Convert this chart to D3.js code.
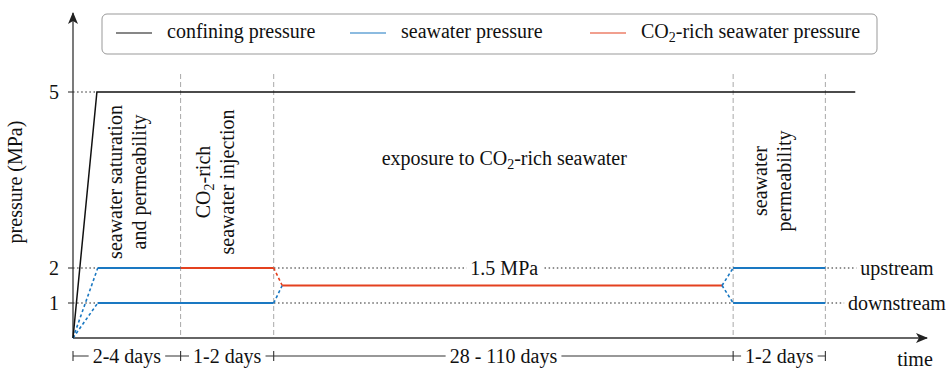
<!DOCTYPE html>
<html>
<head>
<meta charset="utf-8">
<script src="https://cdn.jsdelivr.net/npm/d3@7"></script>
<style>
  html, body { margin: 0; padding: 0; background: #fff; }
  svg text { font-family: "Liberation Serif", "Times New Roman", Times, "DejaVu Serif", serif; }
</style>
</head>
<body>
<svg id="chart" width="951" height="371"></svg>
<script>
// Schematic time axis (arbitrary units) and pressure (MPa)
const phaseBounds = [0, 12.6, 23.5, 77.3, 88.1];           // experiment phase boundaries
const phaseDurations = ["2-4 days", "1-2 days", "28 - 110 days", "1-2 days"];
const yTicks = [1, 2, 5];

const confining = [[0, 0], [2.8, 5], [91.6, 5]];
const seaUpRamp = [[0, 0], [2.9, 2]];
const seaDownRamp = [[0, 0], [2.9, 1]];
const seaUp1 = [[2.9, 2], [12.6, 2]];
const seaDown1 = [[2.9, 1], [23.5, 1]];
const co2Up = [[12.6, 2], [23.5, 2]];
const co2Drop = [[23.5, 2], [24.5, 1.5]];
const seaRise = [[23.5, 1], [24.5, 1.5]];
const co2Equal = [[24.5, 1.5], [76.0, 1.5]];
const seaSplitUp = [[76.0, 1.5], [77.3, 2]];
const seaSplitDown = [[76.0, 1.5], [77.3, 1]];
const seaUp2 = [[77.3, 2], [88.1, 2]];
const seaDown2 = [[77.3, 1], [88.1, 1]];
const refLevels = [1, 2];
const diffLevel = 1.5;

const BLUE = "#1a78c2", RED = "#e4411f";
const FONT = "'Liberation Serif', 'Times New Roman', Times, serif";

const svg = d3.select("#chart").attr("font-family", FONT);
const x = d3.scaleLinear().domain([0, 100]).range([73, 927]);
const y = d3.scaleLinear().domain([0, 2, 5]).range([338, 268, 92]);
const line = d3.line().x(d => x(d[0])).y(d => y(d[1]));

const defs = svg.append("defs");
defs.append("marker").attr("id", "arrow").attr("viewBox", "0 0 12 10")
  .attr("refX", 11).attr("refY", 5).attr("markerWidth", 12).attr("markerHeight", 10)
  .attr("markerUnits", "userSpaceOnUse").attr("orient", "auto")
  .append("path").attr("d", "M0,0 L12,5 L0,10 L3,5 Z").attr("fill", "#222");

// phase separators
svg.append("g").selectAll("line").data(phaseBounds.slice(1)).join("line")
  .attr("x1", d => x(d)).attr("x2", d => x(d))
  .attr("y1", 74).attr("y2", y(0))
  .attr("stroke", "#a8a8a8").attr("stroke-width", 1).attr("stroke-dasharray", "5,3");

// dotted reference levels
const dotted = svg.append("g").attr("stroke", "#222").attr("stroke-width", 1.1)
  .attr("stroke-dasharray", "1.5,2.6");
dotted.append("line").attr("x1", x(0)).attr("x2", x(2.8)).attr("y1", y(5)).attr("y2", y(5));
dotted.selectAll(".lvl").data(refLevels).join("line").attr("class", "lvl")
  .attr("x1", x(0)).attr("x2", 897).attr("y1", d => y(d)).attr("y2", d => y(d));

// axes
svg.append("line").attr("x1", x(0)).attr("x2", x(100)).attr("y1", y(0)).attr("y2", y(0))
  .attr("stroke", "#333").attr("stroke-width", 1.3).attr("marker-end", "url(#arrow)");
svg.append("line").attr("x1", x(0)).attr("x2", x(0)).attr("y1", y(0)).attr("y2", 13)
  .attr("stroke", "#333").attr("stroke-width", 1.3).attr("marker-end", "url(#arrow)");
svg.append("g").selectAll("line").data(yTicks).join("line")
  .attr("x1", x(0) - 5).attr("x2", x(0)).attr("y1", d => y(d)).attr("y2", d => y(d))
  .attr("stroke", "#333").attr("stroke-width", 1.1);
svg.append("g").selectAll("text").data(yTicks).join("text")
  .attr("x", 59).attr("y", d => y(d)).attr("dy", "0.35em").attr("text-anchor", "end")
  .attr("font-size", 20).attr("fill", "#111").text(d => d);

// pressure curves
function path(data, color, dashed, w) {
  svg.append("path").attr("d", line(data)).attr("fill", "none")
    .attr("stroke", color).attr("stroke-width", w || (dashed ? 1.6 : 2))
    .attr("stroke-dasharray", dashed ? "3,2.5" : null);
}
path(seaUpRamp, BLUE, true);
path(seaDownRamp, BLUE, true);
path(seaUp1, BLUE);
path(seaDown1, BLUE);
path(co2Up, RED);
path(co2Drop, RED, true);
path(seaRise, BLUE, true);
path(co2Equal, RED);
path(seaSplitUp, BLUE, true);
path(seaSplitDown, BLUE, true);
path(seaUp2, BLUE);
path(seaDown2, BLUE);
path(confining, "#111", false, 1.5);

// labelled text with white backing
function boxedText(px, py, txt, anchor) {
  const g = svg.append("g");
  const t = g.append("text").attr("x", px).attr("y", py).attr("dy", "0.35em")
    .attr("text-anchor", anchor || "middle").attr("font-size", 20).attr("fill", "#111").text(txt);
  const b = t.node().getBBox();
  g.insert("rect", "text").attr("x", b.x - 4).attr("y", b.y + 2).attr("width", b.width + 8)
    .attr("height", b.height - 4).attr("fill", "#fff");
  return t;
}
boxedText(x(50.5), y(2), diffLevel + " MPa");
boxedText(897, y(2), "upstream");
boxedText(897, y(1), "downstream");

// phase duration ruler
const ry = 356;
svg.append("line").attr("x1", x(phaseBounds[0])).attr("x2", x(phaseBounds[phaseBounds.length - 1]))
  .attr("y1", ry).attr("y2", ry).attr("stroke", "#333").attr("stroke-width", 1.1);
svg.append("g").selectAll("line").data(phaseBounds).join("line")
  .attr("x1", d => x(d)).attr("x2", d => x(d)).attr("y1", ry - 5).attr("y2", ry + 5)
  .attr("stroke", "#333").attr("stroke-width", 1.1);
phaseDurations.forEach((d, i) => {
  boxedText((x(phaseBounds[i]) + x(phaseBounds[i + 1])) / 2, ry, d);
});
svg.append("text").attr("x", 915).attr("y", 366).attr("text-anchor", "middle")
  .attr("font-size", 20).attr("fill", "#111").text("time");

// y axis title
svg.append("text").attr("transform", "translate(22,182) rotate(-90)")
  .attr("text-anchor", "middle").attr("font-size", 20).attr("fill", "#111").text("pressure (MPa)");

// phase descriptions
function co2(sel, before, after) {
  sel.append("tspan").text(before + "CO");
  sel.append("tspan").attr("font-size", 14).attr("dy", 4).text("2");
  sel.append("tspan").attr("dy", -4).text(after);
}
function vlabel(cx, cy, lines) {
  lines.forEach((l, i) => {
    const t = svg.append("text")
      .attr("transform", `translate(${cx + (i - (lines.length - 1) / 2) * 24 + 7},${cy}) rotate(-90)`)
      .attr("text-anchor", "middle").attr("font-size", 20).attr("fill", "#111");
    if (typeof l === "string") t.text(l); else co2(t, l[0], l[1]);
  });
}
vlabel(127, 182, ["seawater saturation", "and permeability"]);
vlabel(215, 182, [["", "-rich"], "seawater injection"]);
vlabel(772, 181, ["seawater", "permeability"]);
const ex = svg.append("text").attr("x", x(50.5)).attr("y", 158).attr("dy", "0.35em")
  .attr("text-anchor", "middle").attr("font-size", 20).attr("fill", "#111");
co2(ex, "exposure to ", "-rich seawater");

// legend
const legend = svg.append("g");
legend.append("rect").attr("x", 102).attr("y", 14).attr("width", 775).attr("height", 40)
  .attr("rx", 5).attr("fill", "#fff").attr("stroke", "#999").attr("stroke-width", 1);
const legendItems = [
  { x: 116, color: "#111", label: "confining pressure" },
  { x: 350, color: BLUE, label: "seawater pressure" },
  { x: 590, color: RED, label: null }
];
legendItems.forEach(it => {
  legend.append("line").attr("x1", it.x).attr("x2", it.x + 36).attr("y1", 33).attr("y2", 33)
    .attr("stroke", it.color).attr("stroke-width", 1.2);
  const t = legend.append("text").attr("x", it.x + 51).attr("y", 38)
    .attr("font-size", 20).attr("fill", "#111");
  if (it.label) t.text(it.label); else co2(t, "", "-rich seawater pressure");
});
</script>
</body>
</html>
